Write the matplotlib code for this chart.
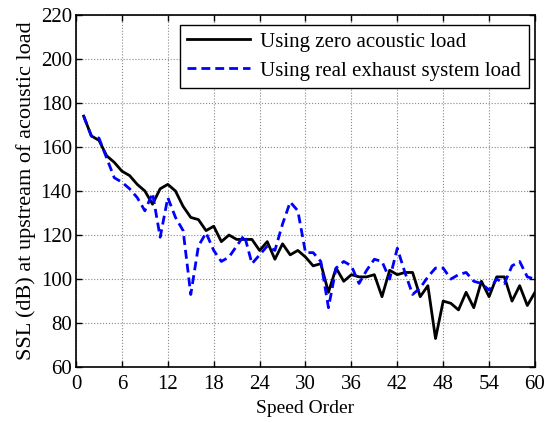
import matplotlib
matplotlib.use("Agg")
import matplotlib.pyplot as plt
import numpy as np

# speed orders 1..60
orders = np.arange(1, 61)

# SSL with zero acoustic load (dB)
ssl_zero = [174, 165, 163, 156, 153, 149, 147, 143, 140, 134,
            141, 143, 140, 133, 128, 127, 122, 124, 117, 120,
            118, 118, 118, 113, 117, 109, 116, 111, 113, 110,
            106, 107, 94, 105, 99, 102, 101, 101, 102, 92,
            104, 102, 103, 103, 92, 97, 73, 90, 89, 86,
            94, 87, 99, 92, 101, 101, 90, 97, 88, 94]

# SSL with real exhaust system load (dB)
ssl_real = [174, 165, 164, 155, 146, 144, 141, 137, 131, 139,
            119, 137, 128, 122, 93, 115, 121, 113, 108, 110,
            115, 120, 107, 111, 115, 113, 125, 135, 131, 112,
            112, 108, 87, 105, 108, 106, 98, 104, 109, 108,
            100, 114, 103, 93, 96, 101, 105, 105, 100, 102,
            103, 99, 98, 95, 100, 98, 106, 108, 101, 100]

xticks = np.arange(0, 61, 6)
yticks = np.arange(60, 221, 20)

plt.rcParams['font.family'] = ['Liberation Serif', 'DejaVu Serif']
plt.rcParams['font.size'] = 15

fig = plt.figure(figsize=(5.47, 4.23), dpi=100)
ax = fig.add_axes([0.139, 0.132, 0.839, 0.833])

ax.plot(orders, ssl_zero, color='black', lw=2.0, label='Using zero acoustic load')
ax.plot(orders, ssl_real, color='blue', lw=2.0, ls=(0, (3.2, 1.8)),
        label='Using real exhaust system load')

ax.set_xlim(0, 60)
ax.set_ylim(60, 220)
ax.set_xticks(xticks)
ax.set_yticks(yticks)
ax.grid(True, color='#888888', ls=':', lw=0.8)
ax.tick_params(direction='in', top=True, right=True, length=4, width=1, pad=3)
ax.tick_params(axis='x', pad=6)
for sp in ax.spines.values():
    sp.set_linewidth(1.2)

ax.set_xlabel('Speed Order', fontsize=14, labelpad=4)
ax.set_ylabel('SSL (dB) at upstream of acoustic load', fontsize=16, labelpad=3)

leg = ax.legend(loc='upper right', bbox_to_anchor=(0.986, 0.972), fancybox=False,
                edgecolor='black', framealpha=1, handlelength=3.0,
                borderpad=0.35, labelspacing=0.45, handletextpad=0.5,
                borderaxespad=0, fontsize=15)
leg.get_frame().set_linewidth(1.0)

fig.savefig('out.png', dpi=100)
